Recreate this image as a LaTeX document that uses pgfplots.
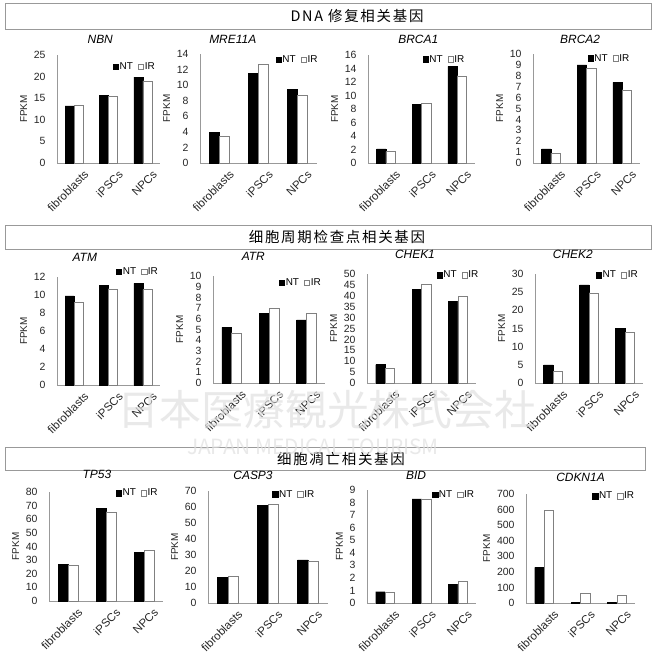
\documentclass[border=0pt]{standalone}
\usepackage{fontspec}
\setmainfont{Liberation Sans}
\newfontfamily\cjk[LetterSpace=12]{Noto Sans CJK SC}
\newfontfamily\jp{Noto Sans CJK JP}
\usepackage{pgfplots}
\pgfplotsset{compat=1.18}
\pgfplotsset{
 base/.style={
  scale only axis, anchor=south west,
  ymin=0, xmin=-0.5, xmax=2.5,
  xtick={0,1,2}, xticklabels={fibroblasts,iPSCs,NPCs},
  axis lines*=left,
  axis line style={draw=black!40, line width=0.7bp},
  major tick length=0pt, tick style={draw=none},
  ticklabel style={font=\fontsize{10.5}{10.5}\selectfont, text=black!85},
  xticklabel style={rotate=45, anchor=north east, font=\fontsize{11.5}{11.5}\selectfont, inner sep=1bp, xshift=3bp, yshift=-10bp},
  yticklabel style={xshift=-8bp},
  ylabel={FPKM}, ylabel style={font=\fontsize{10}{10}\selectfont, text=black!85},
  title style={font=\fontsize{12}{12}\selectfont\itshape, anchor=center},
  legend style={draw=none, fill=none, legend columns=2, font=\fontsize{10}{10}\selectfont, anchor=east, nodes={inner sep=1bp}, /tikz/every even column/.append style={column sep=4bp}},
  /pgf/number format/assume math mode=true,
  clip=false,
 },
 ntbar/.style={ybar, fill=black, draw=black, bar shift=-0.13, bar width=0.26,
   legend image code/.code={\draw[fill=black,draw=black] (0bp,-2.7bp) rectangle (5.4bp,2.7bp);}},
 irbar/.style={ybar, fill=white, draw=black!50, bar shift=0.13, bar width=0.26,
   legend image code/.code={\draw[fill=white,draw=black!50] (0bp,-2.7bp) rectangle (5.4bp,2.7bp);}},
}
\begin{document}
\begin{tikzpicture}
\useasboundingbox (0,0) rectangle (656bp,-658bp);
\fill[white] (0,0) rectangle (656bp,-658bp);
% section headers
\draw[black!40, line width=0.7bp] (5bp,-3bp) rectangle (651bp,-29bp);
\node[font=\cjk\fontsize{14.5}{15}\selectfont] at (357bp,-16bp) {DNA 修复相关基因};
\draw[black!40, line width=0.7bp] (5bp,-225bp) rectangle (651bp,-249bp);
\node[font=\cjk\fontsize{14.5}{15}\selectfont] at (337bp,-237bp) {细胞周期检查点相关基因};
\draw[black!40, line width=0.7bp] (5bp,-447bp) rectangle (645bp,-470bp);
\node[font=\cjk\fontsize{14.5}{15}\selectfont] at (341bp,-459bp) {细胞凋亡相关基因};

% ---------- Row 1 ----------
\begin{axis}[base, at={(57bp,-163bp)}, width=103bp, height=108bp, ymax=25, ytick={0,5,...,25},
  title={NBN}, title style={at={(0.42,1)}, yshift=10bp}, legend style={at={(0.99,0.89)}}]
\addplot[ntbar] coordinates {(0,13.2) (1,15.7) (2,19.9)};
\addplot[irbar] coordinates {(0,13.3) (1,15.5) (2,19.0)};
\legend{NT,IR}
\end{axis}
\begin{axis}[base, at={(200bp,-163bp)}, width=117bp, height=109bp, ymax=14, ytick={0,2,...,14},
  title={MRE11A}, title style={at={(0.28,1)}, yshift=9bp}, legend style={at={(1.04,0.945)}}]
\addplot[ntbar] coordinates {(0,3.9) (1,11.5) (2,9.5)};
\addplot[irbar] coordinates {(0,3.4) (1,12.7) (2,8.7)};
\legend{NT,IR}
\end{axis}
\begin{axis}[base, at={(368bp,-163bp)}, width=107bp, height=108bp, ymax=16, ytick={0,2,...,16},
  title={BRCA1}, title style={at={(0.47,1)}, yshift=10bp}, legend style={at={(0.94,0.96)}}]
\addplot[ntbar] coordinates {(0,2.1) (1,8.7) (2,14.3)};
\addplot[irbar] coordinates {(0,1.7) (1,8.9) (2,12.9)};
\legend{NT,IR}
\end{axis}
\begin{axis}[base, at={(533bp,-163bp)}, width=107bp, height=109bp, ymax=10, ytick={0,1,...,10},
  title={BRCA2}, title style={at={(0.44,1)}, yshift=9bp}, legend style={at={(0.94,0.96)}}]
\addplot[ntbar] coordinates {(0,1.3) (1,9.0) (2,7.4)};
\addplot[irbar] coordinates {(0,0.9) (1,8.7) (2,6.7)};
\legend{NT,IR}
\end{axis}

% ---------- Row 2 ----------
\begin{axis}[base, at={(57bp,-385bp)}, width=103bp, height=108bp, ymax=12, ytick={0,2,...,12},
  title={ATM}, title style={at={(0.27,1)}, yshift=14bp}, legend style={at={(1.02,1.05)}}]
\addplot[ntbar] coordinates {(0,9.9) (1,11.1) (2,11.3)};
\addplot[irbar] coordinates {(0,9.2) (1,10.7) (2,10.6)};
\legend{NT,IR}
\end{axis}
\begin{axis}[base, at={(213bp,-383bp)}, width=112bp, height=107bp, ymax=10, ytick={0,1,...,10},
  title={ATR}, title style={at={(0.36,1)}, yshift=14bp}, legend style={at={(1.0,0.94)}}]
\addplot[ntbar] coordinates {(0,5.2) (1,6.5) (2,5.9)};
\addplot[irbar] coordinates {(0,4.7) (1,7.0) (2,6.5)};
\legend{NT,IR}
\end{axis}
\begin{axis}[base, at={(367bp,-383bp)}, width=109bp, height=109bp, ymax=50, ytick={0,5,...,50},
  title={CHEK1}, title style={at={(0.44,1)}, yshift=14bp}, legend style={at={(1.06,0.99)}}]
\addplot[ntbar] coordinates {(0,8.4) (1,43.1) (2,37.5)};
\addplot[irbar] coordinates {(0,6.6) (1,45.4) (2,39.8)};
\legend{NT,IR}
\end{axis}
\begin{axis}[base, at={(535bp,-383bp)}, width=108bp, height=109bp, ymax=30, ytick={0,5,...,30},
  title={CHEK2}, title style={at={(0.35,1)}, yshift=14bp}, legend style={at={(0.99,0.99)}}]
\addplot[ntbar] coordinates {(0,5.0) (1,27.0) (2,15.0)};
\addplot[irbar] coordinates {(0,3.3) (1,24.8) (2,14.0)};
\legend{NT,IR}
\end{axis}

% ---------- Row 3 ----------
\begin{axis}[base, at={(49bp,-601bp)}, width=114bp, height=109bp, ymax=80, ytick={0,10,...,80},
  title={TP53}, title style={at={(0.42,1)}, yshift=12bp}, legend style={at={(0.99,0.99)}}]
\addplot[ntbar] coordinates {(0,27.0) (1,68.0) (2,35.6)};
\addplot[irbar] coordinates {(0,26.6) (1,65.4) (2,37.3)};
\legend{NT,IR}
\end{axis}
\begin{axis}[base, at={(208bp,-603bp)}, width=120bp, height=112bp, ymax=70, ytick={0,10,...,70},
  title={CASP3}, title style={at={(0.375,1)}, yshift=10bp}, legend style={at={(0.92,0.97)}}]
\addplot[ntbar] coordinates {(0,16.1) (1,61.0) (2,26.9)};
\addplot[irbar] coordinates {(0,17.0) (1,62.0) (2,26.3)};
\legend{NT,IR}
\end{axis}
\begin{axis}[base, at={(367bp,-603bp)}, width=109bp, height=113bp, ymax=9, ytick={0,1,...,9},
  title={BID}, title style={at={(0.45,1)}, yshift=9bp}, legend style={at={(1.02,0.96)}}]
\addplot[ntbar] coordinates {(0,0.9) (1,8.3) (2,1.5)};
\addplot[irbar] coordinates {(0,0.9) (1,8.3) (2,1.7)};
\legend{NT,IR}
\end{axis}
\begin{axis}[base, at={(526bp,-603bp)}, width=109bp, height=109bp, ymax=700, ytick={0,100,...,700},
  title={CDKN1A}, title style={at={(0.5,1)}, yshift=11bp}, legend style={at={(1.03,0.98)}}]
\addplot[ntbar] coordinates {(0,229) (1,4) (2,6)};
\addplot[irbar] coordinates {(0,593) (1,64) (2,47)};
\legend{NT,IR}
\end{axis}

% watermark
\node[font=\jp\fontsize{42}{42}\selectfont, text=black!12, opacity=0.7] at (327bp,-410bp) {日本医療観光株式会社};
\node[font=\jp\fontsize{21}{21}\selectfont, text=black!12, opacity=0.7] at (313bp,-447bp) {JAPAN MEDICAL TOURISM};
\end{tikzpicture}
\end{document}
